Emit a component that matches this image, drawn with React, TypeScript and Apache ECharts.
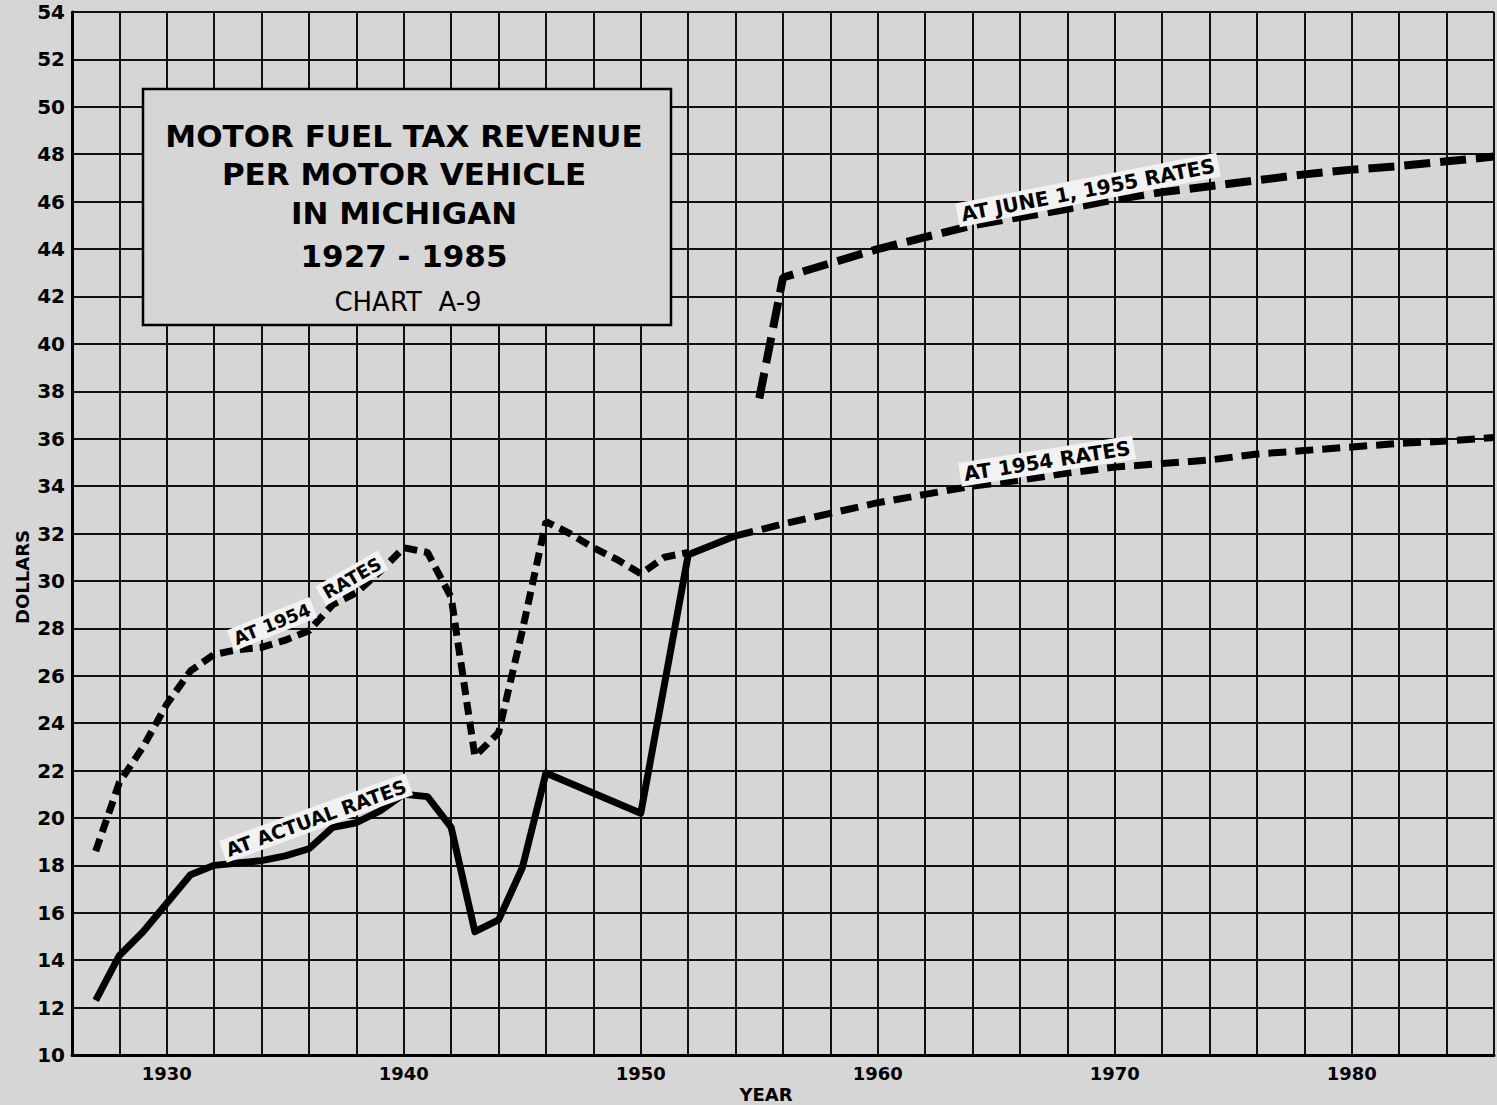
import React, { useEffect, useRef } from "react";
import * as echarts from "echarts";

// ---- Data ----
const actualYears = [1927, 1928, 1929, 1930, 1931, 1932, 1933, 1934, 1935, 1936, 1937, 1938, 1939, 1940, 1941, 1942, 1943, 1944, 1945, 1946, 1950, 1952, 1953, 1954];
const actualValues = [12.3, 14.2, 15.2, 16.4, 17.6, 18.0, 18.1, 18.2, 18.4, 18.7, 19.6, 19.8, 20.3, 21.0, 20.9, 19.6, 15.2, 15.7, 17.9, 21.9, 20.2, 31.1, 31.5, 31.9];

const hist1954Years = [1927, 1928, 1929, 1930, 1931, 1932, 1933, 1934, 1935, 1936, 1937, 1938, 1939, 1940, 1941, 1942, 1943, 1944, 1945, 1946, 1947, 1948, 1949, 1950, 1951, 1952];
const hist1954Values = [18.6, 21.5, 23.0, 24.8, 26.2, 26.9, 27.1, 27.2, 27.5, 27.9, 29.0, 29.5, 30.4, 31.4, 31.2, 29.3, 22.6, 23.6, 27.9, 32.5, 32.0, 31.4, 30.9, 30.3, 31.0, 31.2];

const proj1954Years = [1954, 1956, 1958, 1960, 1962, 1964, 1966, 1968, 1970, 1972, 1974, 1976, 1978, 1980, 1982, 1984, 1986];
const proj1954Values = [31.9, 32.4, 32.85, 33.3, 33.65, 34.0, 34.25, 34.55, 34.8, 34.95, 35.1, 35.35, 35.5, 35.65, 35.8, 35.9, 36.05];

const june1955Years = [1955, 1956, 1958, 1960, 1962, 1964, 1966, 1968, 1970, 1972, 1974, 1976, 1978, 1980, 1982, 1984, 1986];
const june1955Values = [37.7, 42.8, 43.4, 44.0, 44.5, 45.0, 45.35, 45.7, 46.1, 46.4, 46.65, 46.9, 47.15, 47.35, 47.5, 47.7, 47.9];

const titleLines = ["MOTOR FUEL TAX REVENUE", "PER MOTOR VEHICLE", "IN MICHIGAN", "1927 - 1985"];
const chartNumber = "CHART  A-9";
const xAxisName = "YEAR";
const yAxisName = "DOLLARS";
const lineLabels = {
  actual: "AT ACTUAL RATES",
  hist1954a: "AT 1954",
  hist1954b: "RATES",
  proj1954: "AT 1954 RATES",
  june1955: "AT JUNE 1, 1955 RATES",
};

const pairs = (xs: number[], ys: number[]) => xs.map((x, i) => [x, ys[i]]);

const BG = "#d6d6d6";
const FONT = "'DejaVu Sans', sans-serif";
const deg = (d: number) => (d * Math.PI) / 180;

export default function App() {
  const ref = useRef<HTMLDivElement>(null);
  useEffect(() => {
    document.body.style.margin = "0";
    document.body.style.overflow = "hidden";
    const chart = echarts.init(ref.current!, null, { renderer: "svg" });

    const lineLabel = (text: string, x: number, y: number, angle: number, size = 19) => ({
      type: "text",
      x,
      y,
      rotation: deg(angle),
      z: 60,
      style: {
        text,
        font: `bold ${size}px ${FONT}`,
        fill: "#000",
        align: "center",
        verticalAlign: "middle",
        backgroundColor: "#f2f2f2",
        padding: [2, 4],
      },
    });

    const option: any = {
      animation: false,
      backgroundColor: BG,
      grid: { left: 72, right: -6, top: 12, bottom: 50, containLabel: false },
      xAxis: {
        type: "value",
        min: 1926,
        max: 1986,
        interval: 2,
        axisLine: { show: true, lineStyle: { color: "#000", width: 3 } },
        axisTick: { show: false },
        axisLabel: {
          formatter: (v: number) => (v % 10 === 0 ? String(v) : ""),
          fontSize: 18,
          fontWeight: "bold",
          fontFamily: FONT,
          color: "#000",
          margin: 9,
        },
        splitLine: { show: true, lineStyle: { color: "#111", width: 2 } },
      },
      yAxis: {
        type: "value",
        min: 10,
        max: 54,
        interval: 2,
        axisLine: { show: true, lineStyle: { color: "#000", width: 3 } },
        axisTick: { show: false },
        axisLabel: {
          fontSize: 20,
          fontWeight: "bold",
          fontFamily: FONT,
          color: "#000",
          margin: 7,
        },
        splitLine: { show: true, lineStyle: { color: "#111", width: 2 } },
      },
      series: [
        {
          name: "At actual rates",
          type: "line",
          data: pairs(actualYears, actualValues),
          symbol: "none",
          lineStyle: { color: "#000", width: 7, join: "round" },
          z: 5,
        },
        {
          name: "At 1954 rates",
          type: "line",
          data: pairs(hist1954Years, hist1954Values),
          symbol: "none",
          lineStyle: { color: "#000", width: 7, type: [13, 7] },
          z: 5,
        },
        {
          name: "At 1954 rates (projected)",
          type: "line",
          data: pairs(proj1954Years, proj1954Values),
          symbol: "none",
          lineStyle: { color: "#000", width: 7, type: [18, 9] },
          z: 5,
        },
        {
          name: "At June 1, 1955 rates",
          type: "line",
          data: pairs(june1955Years, june1955Values),
          symbol: "none",
          lineStyle: { color: "#000", width: 8, type: [26, 10] },
          z: 5,
        },
      ],
      graphic: [
        {
          type: "rect",
          z: 50,
          shape: { x: 143, y: 89, width: 528, height: 236 },
          style: { fill: BG, stroke: "#000", lineWidth: 2.5 },
        },
        ...titleLines.map((t, i) => ({
          type: "text",
          z: 55,
          x: 404,
          y: [136, 174, 213, 256][i],
          style: {
            text: t,
            font: `bold 31px ${FONT}`,
            fill: "#000",
            align: "center",
            verticalAlign: "middle",
          },
        })),
        {
          type: "text",
          z: 55,
          x: 408,
          y: 302,
          style: {
            text: chartNumber,
            font: `26px ${FONT}`,
            fill: "#000",
            align: "center",
            verticalAlign: "middle",
          },
        },
        {
          type: "text",
          z: 55,
          x: 766,
          y: 1094,
          style: {
            text: xAxisName,
            font: `bold 18px ${FONT}`,
            fill: "#000",
            align: "center",
            verticalAlign: "middle",
          },
        },
        {
          type: "text",
          z: 55,
          x: 22,
          y: 577,
          rotation: Math.PI / 2,
          style: {
            text: yAxisName,
            font: `bold 18px ${FONT}`,
            fill: "#000",
            align: "center",
            verticalAlign: "middle",
          },
        },
        lineLabel(lineLabels.actual, 316, 818, 20, 19),
        lineLabel(lineLabels.hist1954a, 272, 624, 22, 18),
        lineLabel(lineLabels.hist1954b, 352, 578, 30, 18),
        lineLabel(lineLabels.proj1954, 1047, 461, 9, 20),
        lineLabel(lineLabels.june1955, 1088, 190, 11, 20),
      ],
    };

    chart.setOption(option);
    return () => chart.dispose();
  }, []);
  return <div ref={ref} style={{ width: 1497, height: 1105 }} />;
}
